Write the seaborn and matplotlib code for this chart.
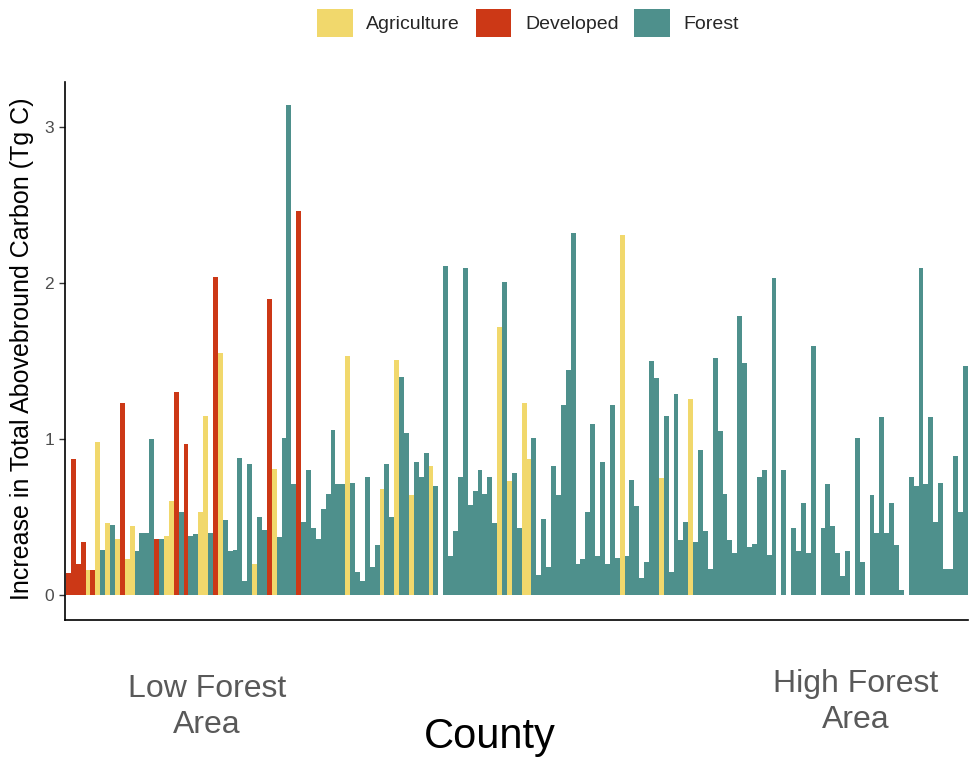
import matplotlib
matplotlib.use("Agg")
import matplotlib.pyplot as plt
from matplotlib.patches import Patch
import seaborn as sns
import pandas as pd

# ---- data ----
land_use_codes = list(
    "DDDDADAFAFADAAFFFFDFAADFD"          # 0-24
    "FFAAFDAFFFFFFAFFDAFFFFDF"           # 25-48
    "FFFFFFFFAFFFFFFAFFAFFAFFF"          # 49-73
    "AFFFFFFFFFFFFFAFAFFAAFFF"           # 74-97
    "FFFFFFFFFFFFFFFAFFFFFFFAF"          # 98-122
    "FFFFAFFFFFFFFFFFFFFFFFF"            # 123-145
    "FFFFFFFFFFFFFFFFFFFFFFFFFFFFFFFFFFFFFF"  # 146-183
)
carbon_increase = [
    0.14, 0.87, 0.20, 0.34, 0.16, 0.16, 0.98, 0.29, 0.46, 0.45,
    0.36, 1.23, 0.23, 0.44, 0.28, 0.40, 0.40, 1.00, 0.36, 0.36,
    0.38, 0.60, 1.30, 0.53, 0.97,
    0.38, 0.39, 0.53, 1.15, 0.40, 2.04, 1.55, 0.48, 0.28, 0.29,
    0.88, 0.09, 0.84, 0.20, 0.50, 0.42, 1.90, 0.81, 0.37, 1.01,
    3.14, 0.71, 2.46, 0.47,
    0.80, 0.43, 0.36, 0.55, 0.65, 1.06, 0.71, 0.71, 1.53, 0.72,
    0.15, 0.09, 0.76, 0.18, 0.32, 0.68, 0.84, 0.50, 1.51, 1.40,
    1.04, 0.64, 0.85, 0.76, 0.91,
    0.83, 0.70, 0.00, 2.11, 0.25, 0.41, 0.76, 2.10, 0.58, 0.67,
    0.80, 0.65, 0.76, 0.46, 1.72, 2.01, 0.73, 0.78, 0.43, 1.23,
    0.87, 1.01, 0.13, 0.49,
    0.18, 0.83, 0.64, 1.22, 1.44, 2.32, 0.20, 0.23, 0.53, 1.10,
    0.25, 0.85, 0.20, 1.22, 0.24, 2.31, 0.25, 0.74, 0.57, 0.11,
    0.21, 1.50, 1.39, 0.75, 1.15,
    0.15, 1.29, 0.35, 0.47, 1.26, 0.34, 0.93, 0.41, 0.17, 1.52,
    1.05, 0.65, 0.35, 0.27, 1.79, 1.49, 0.31, 0.33, 0.76, 0.80,
    0.26, 2.03, 0.00,
    0.80, 0.00, 0.43, 0.28, 0.59, 0.27, 1.60, 0.00, 0.43, 0.71,
    0.44, 0.27, 0.12, 0.28, 0.00, 1.01, 0.21, 0.00, 0.64, 0.40,
    1.14, 0.40, 0.59, 0.32, 0.03, 0.00, 0.76, 0.70, 2.10, 0.71,
    1.14, 0.47, 0.72, 0.17, 0.17, 0.89, 0.53, 1.47,
]
categories = ["Agriculture", "Developed", "Forest"]
code_names = {"A": "Agriculture", "D": "Developed", "F": "Forest"}
colors = {"Agriculture": "#F1D86C", "Developed": "#CC3816", "Forest": "#4E908C"}
y_ticks = [0, 1, 2, 3]

n = min(len(land_use_codes), len(carbon_increase))
df = pd.DataFrame({
    "county": list(range(n)),
    "carbon": carbon_increase[:n],
    "land_use": [code_names[c] for c in land_use_codes[:n]],
})

sns.set_style("white")
plt.rcParams["font.family"] = ["Liberation Sans", "DejaVu Sans"]

fig = plt.figure(figsize=(9.69, 7.59), dpi=100)
ax = fig.add_axes([65 / 969, 1 - 620 / 759, 903 / 969, (620 - 82) / 759])

sns.barplot(data=df, x="county", y="carbon", hue="land_use",
            hue_order=categories, palette=colors, dodge=False, saturation=1,
            native_scale=True, width=1.0, linewidth=0, legend=False, ax=ax)

ax.set_xlim(-0.7, n - 0.4)
ax.set_ylim(-0.16, 3.29)
ax.set_xticks([])
ax.set_yticks(y_ticks)
ax.set_yticklabels([str(t) for t in y_ticks], fontsize=12.5, color="#4D4D4D")
ax.tick_params(axis="y", length=4, width=1, color="#333333", pad=4, left=True)
ax.set_xlabel("")
ax.set_ylabel("")
for side in ["top", "right"]:
    ax.spines[side].set_visible(False)
for side in ["left", "bottom"]:
    ax.spines[side].set_color("black")
    ax.spines[side].set_linewidth(1.2)

fig.text(22 / 969, 1 - 349 / 759, "Increase in Total Abovebround Carbon (Tg C)",
         rotation=90, ha="center", va="center", fontsize=18, color="black")
fig.text(490 / 969, 1 - 737 / 759, "County", ha="center", va="center",
         fontsize=30, color="black")
fig.text(207 / 969, 1 - 707 / 759, "Low Forest\nArea", ha="center", va="center",
         fontsize=23, color="#595959", linespacing=1.3)
fig.text(856 / 969, 1 - 702 / 759, "High Forest\nArea", ha="center", va="center",
         fontsize=23, color="#595959", linespacing=1.3)

handles = [Patch(facecolor=colors[c], edgecolor="none", label=c) for c in categories]
fig.legend(handles=handles, loc="center", bbox_to_anchor=(528 / 969, 1 - 23 / 759),
           ncol=3, frameon=False, fontsize=14, handlelength=1.85,
           handleheight=1.85, handletextpad=0.7, columnspacing=0.8,
           borderpad=0, borderaxespad=0)

fig.savefig("out.png", dpi=100)
